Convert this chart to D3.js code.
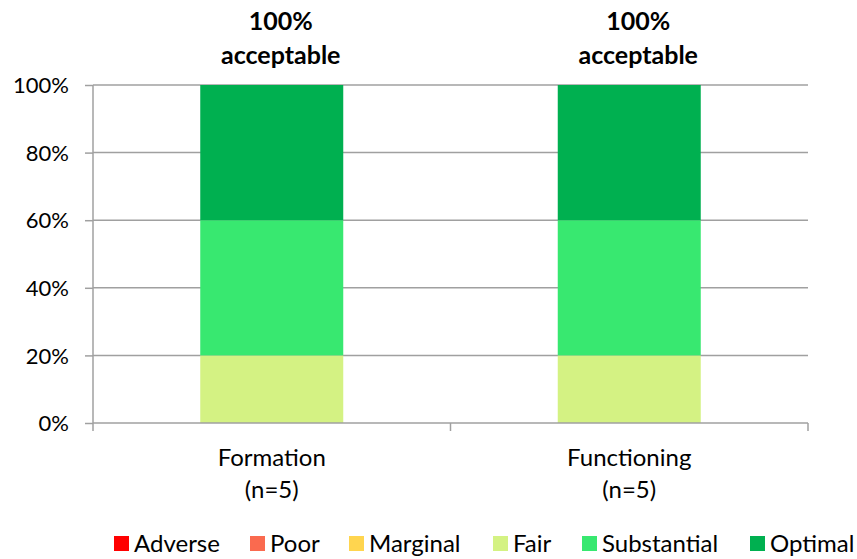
<!DOCTYPE html>
<html>
<head>
<meta charset="utf-8">
<script src="https://cdn.jsdelivr.net/npm/d3@7"></script>
<style>
  html, body { margin: 0; padding: 0; background: #fff; }
  svg text { font-family: Lato, "Open Sans", sans-serif; fill: #000; }
</style>
</head>
<body>
<div id="chart"></div>
<script>
  // categories and per-level shares (%)
  var categories = ["Formation", "Functioning"];
  var sampleSizes = ["(n=5)", "(n=5)"];
  var levels = ["Adverse", "Poor", "Marginal", "Fair", "Substantial", "Optimal"];
  var adverse = [0, 0];
  var poor = [0, 0];
  var marginal = [0, 0];
  var fair = [20, 20];
  var substantial = [40, 40];
  var optimal = [40, 40];
  var acceptable = ["100%", "100%"];
  var yTicks = [0, 20, 40, 60, 80, 100];

  var colors = ["#ff0000", "#fa6a4f", "#ffd54f", "#d4f283", "#38e870", "#00b050"];
  var W = 857, H = 559;
  var m = { left: 93, right: 49, top: 85, bottom: 136 };

  var rows = categories.map(function (c, i) {
    return { cat: c, Adverse: adverse[i], Poor: poor[i], Marginal: marginal[i],
             Fair: fair[i], Substantial: substantial[i], Optimal: optimal[i] };
  });
  var stacked = d3.stack().keys(levels)(rows);

  var svg = d3.select("#chart").append("svg").attr("width", W).attr("height", H);

  var x = d3.scaleBand().domain(categories).range([m.left, W - m.right]).paddingInner(0).paddingOuter(0);
  var y = d3.scaleLinear().domain([0, 100]).range([H - m.bottom, m.top]);
  var bw = x.bandwidth() * 0.4;

  // gridlines
  svg.append("g").selectAll("line").data(yTicks.filter(function (t) { return t > 0; }))
    .enter().append("line")
    .attr("x1", m.left).attr("x2", W - m.right)
    .attr("y1", function (d) { return y(d); }).attr("y2", function (d) { return y(d); })
    .attr("stroke", "#a0a0a0").attr("stroke-width", 1.5);

  // bars
  svg.append("g").selectAll("g").data(stacked).enter().append("g")
    .attr("fill", function (d, i) { return colors[i]; })
    .selectAll("rect").data(function (d) { return d; }).enter().append("rect")
    .attr("x", function (d) { return x(d.data.cat) + (x.bandwidth() - bw) / 2; })
    .attr("width", bw)
    .attr("y", function (d) { return y(d[1]); })
    .attr("height", function (d) { return y(d[0]) - y(d[1]); });

  // y axis
  var ya = svg.append("g").attr("transform", "translate(" + m.left + ",0)")
    .call(d3.axisLeft(y).tickValues(yTicks).tickFormat(function (d) { return d + "%"; }).tickSize(8).tickPadding(16));
  ya.select(".domain").attr("stroke", "#a0a0a0").attr("stroke-width", 1.5).attr("d", "M0," + y(100) + "V" + y(0));
  ya.selectAll(".tick line").attr("stroke", "#a0a0a0").attr("stroke-width", 1.5);
  ya.selectAll("text").style("font-size", "22px").attr("dy", "0.35em");

  // x axis line and category separators
  svg.append("line").attr("x1", m.left).attr("x2", W - m.right)
    .attr("y1", y(0)).attr("y2", y(0)).attr("stroke", "#a0a0a0").attr("stroke-width", 1.5);
  var seps = categories.map(function (c) { return x(c); }).concat([x(categories[categories.length - 1]) + x.bandwidth()]);
  svg.append("g").selectAll("line").data(seps).enter().append("line")
    .attr("x1", function (d) { return d; }).attr("x2", function (d) { return d; })
    .attr("y1", y(0)).attr("y2", y(0) + 8)
    .attr("stroke", "#a0a0a0").attr("stroke-width", 1.5);

  // category labels
  var cl = svg.append("g").selectAll("text").data(categories).enter().append("text")
    .attr("text-anchor", "middle").style("font-size", "24px")
    .attr("x", function (d) { return x(d) + x.bandwidth() / 2; });
  cl.append("tspan").attr("y", 466).text(function (d) { return d; });
  cl.append("tspan").attr("x", function (d) { return x(d) + x.bandwidth() / 2; })
    .attr("y", 498).text(function (d, i) { return sampleSizes[i]; });

  // acceptable annotations (sit slightly right of bar centre, as in the source)
  var ax = function (d) { return x(d) + x.bandwidth() / 2 + 9; };
  var an = svg.append("g").selectAll("text").data(categories).enter().append("text")
    .attr("text-anchor", "middle").style("font-size", "25px").style("font-weight", "bold")
    .attr("x", ax);
  an.append("tspan").attr("y", 30).text(function (d, i) { return acceptable[i]; });
  an.append("tspan").attr("x", ax).attr("y", 64).text("acceptable");

  // legend
  var legX = [114, 250, 349, 493, 582, 750];
  var lg = svg.append("g").selectAll("g").data(levels).enter().append("g")
    .attr("transform", function (d, i) { return "translate(" + legX[i] + ",536)"; });
  lg.append("rect").attr("width", 15).attr("height", 15)
    .attr("fill", function (d, i) { return colors[i]; });
  lg.append("text").attr("x", 20).attr("y", 16).style("font-size", "24px").text(function (d) { return d; });
</script>
</body>
</html>
